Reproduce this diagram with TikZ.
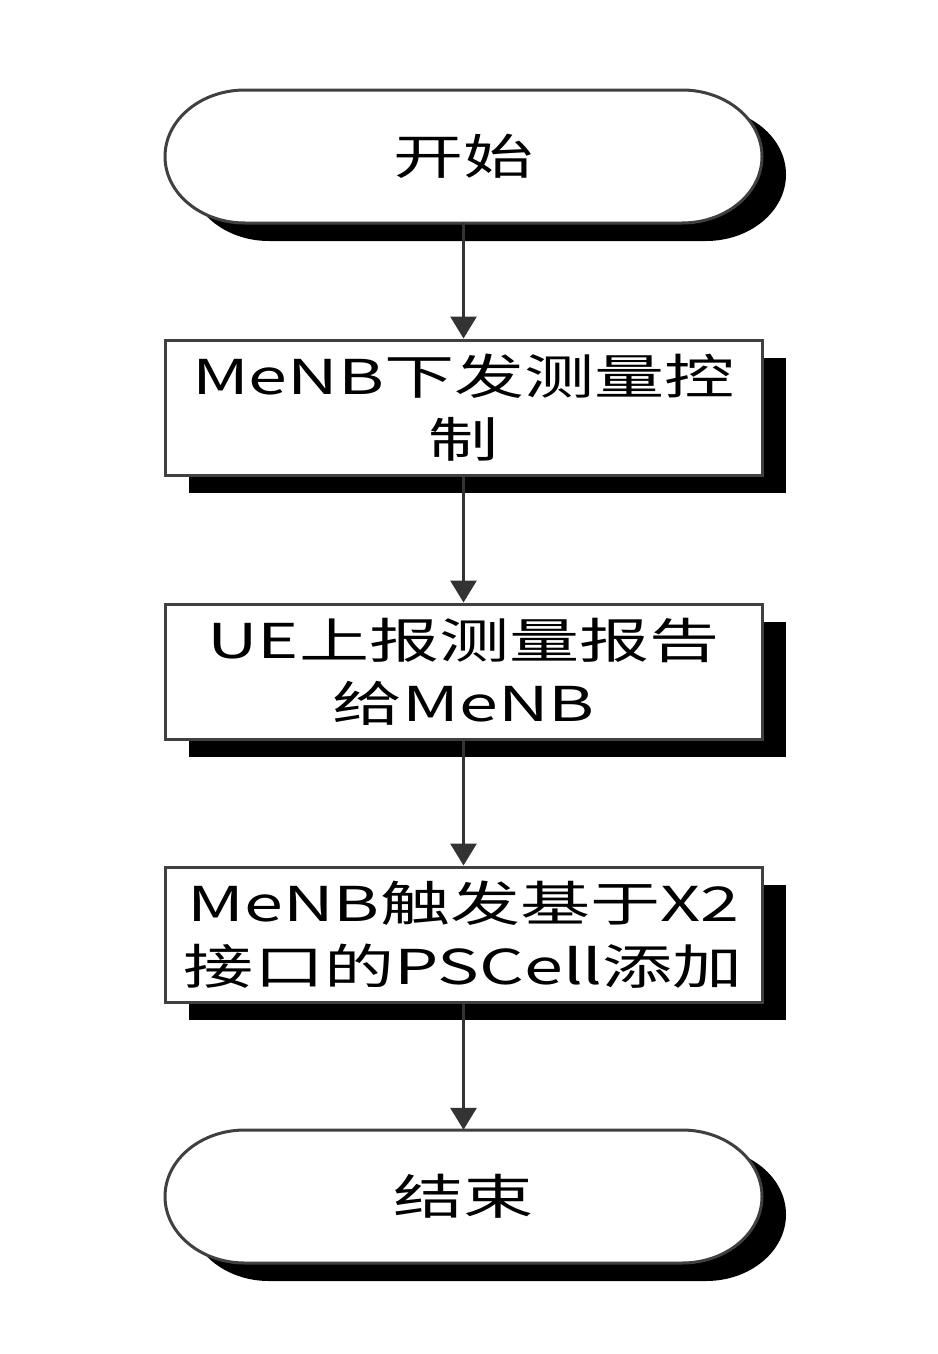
\documentclass[tikz,border=0pt]{standalone}
\usepackage{fontspec}
\newfontfamily\cjk[FakeStretch=1.46]{Noto Sans CJK SC}
\usetikzlibrary{arrows.meta,shadows}
\newcommand\myterm[2]{(#1-218.5,#2+66.5) -- (#1+218.5,#2+66.5) arc[start angle=90,end angle=-90,x radius=80,y radius=66.5] -- (#1-218.5,#2-66.5) arc[start angle=270,end angle=90,x radius=80,y radius=66.5] -- cycle}
\begin{document}
\begin{tikzpicture}[x=1pt,y=1pt,
  txt/.style={font=\cjk\fontsize{48}{63}\selectfont, align=center, text=black},
  stepbox/.style={txt, draw=black!75, line width=3pt, fill=white,
    minimum width=597pt, minimum height=135pt, inner sep=0pt,
    drop shadow={fill=black, opacity=1, shadow xshift=24pt, shadow yshift=-18pt}},
  termnode/.style={txt, minimum width=597pt, minimum height=133pt, inner sep=0pt},
  termline/.style={draw=black!75, line width=3pt, fill=white},
  termshadow/.style={fill=black},
  conn/.style={draw=black!80, line width=3pt, -{Triangle[width=26pt,length=22pt]}}]
\useasboundingbox (0,0) rectangle (937,-1354);
\fill[white] (0,0) rectangle (937,-1354);
% start terminal
\fill[termshadow] \myterm{487.5}{-174.5};
\draw[termline] \myterm{463.5}{-156.5};
\node[termnode] (start) at (463.5,-156.5) {开始};
% process boxes
\node[stepbox] (b1) at (463.5,-407.5) {MeNB下发测量控\\制};
\node[stepbox] (b2) at (463.5,-671.5) {UE上报测量报告\\给MeNB};
\node[stepbox] (b3) at (463.5,-934.5) {MeNB触发基于X2\\接口的PSCell添加};
% end terminal
\fill[termshadow] \myterm{487.5}{-1214.5};
\draw[termline] \myterm{463.5}{-1196.5};
\node[termnode] (end) at (463.5,-1196.5) {结束};
% connectors
\draw[conn] (start.south) -- (b1.north);
\draw[conn] (b1.south) -- (b2.north);
\draw[conn] (b2.south) -- (b3.north);
\draw[conn] (b3.south) -- (end.north);
\end{tikzpicture}
\end{document}
